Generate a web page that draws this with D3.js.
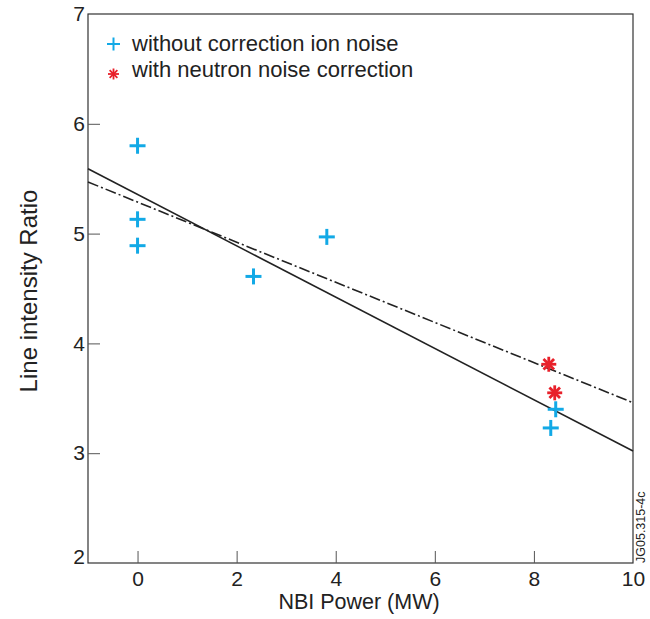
<!DOCTYPE html>
<html>
<head>
<meta charset="utf-8">
<script src="https://cdn.jsdelivr.net/npm/d3@7"></script>
<style>
  body { margin: 0; background: #fff; }
  svg text { font-family: 'Liberation Sans', Arial, sans-serif; fill: #222; }
</style>
</head>
<body>
<div id="chart"></div>
<script>
// Data
const xTicks = [0, 2, 4, 6, 8, 10];
const yTicks = [2, 3, 4, 5, 6, 7];

const uncorrectedX = [0, 0, 0, 2.34, 3.82, 8.44, 8.34];
const uncorrectedY = [5.80, 5.13, 4.89, 4.61, 4.97, 3.40, 3.23];

const correctedX = [8.30, 8.42];
const correctedY = [3.81, 3.55];

// fit lines, endpoints at x = -1 and x = 10
const solidFitX = [-1, 10];
const solidFitY = [5.59, 3.02];
const dashFitX = [-1, 10];
const dashFitY = [5.47, 3.46];

const BLUE = '#12a9e6';
const RED = '#e8202a';
const FONT = "'Liberation Sans', Arial, sans-serif";

const W = 650, H = 619;
const m = { top: 14, right: 17, bottom: 56, left: 88 };
const w = W - m.left - m.right;
const h = H - m.top - m.bottom;

const svg = d3.select('#chart').append('svg')
  .attr('width', W).attr('height', H);
const g = svg.append('g').attr('transform', `translate(${m.left},${m.top})`);

const x = d3.scaleLinear().domain([-1, 10]).range([0, w]);
const y = d3.scaleLinear().domain([2, 7]).range([h, 0]);

// Frame
g.append('rect')
  .attr('width', w).attr('height', h)
  .attr('fill', 'none').attr('stroke', '#333').attr('stroke-width', 1.2);

// Axes, ticks point inward
const xAxis = g.append('g').attr('transform', `translate(0,${h})`)
  .call(d3.axisBottom(x).tickValues(xTicks).tickFormat(d3.format('d'))
    .tickSizeInner(-12).tickSizeOuter(0).tickPadding(5));
const yAxis = g.append('g')
  .call(d3.axisLeft(y).tickValues(yTicks).tickFormat(d3.format('d'))
    .tickSizeInner(-12).tickSizeOuter(0).tickPadding(3));

[xAxis, yAxis].forEach(ax => {
  ax.select('.domain').remove();
  ax.selectAll('.tick line').attr('stroke', '#555').attr('stroke-width', 1);
  ax.selectAll('.tick text')
    .style('font-size', '21px')
    .style('font-family', FONT)
    .attr('fill', '#222');
});
// no inner tick lines at the frame edges
xAxis.selectAll('.tick').filter(d => d === 10).select('line').remove();
yAxis.selectAll('.tick').filter(d => d === 2 || d === 7).select('line').remove();
xAxis.selectAll('.tick text').attr('dy', '0.85em');
// bottom label sits on the axis line
yAxis.selectAll('.tick').filter(d => d === 2).select('text').attr('dy', '0');

// Axis titles
svg.append('text')
  .attr('x', 359).attr('y', 609)
  .attr('text-anchor', 'middle')
  .style('font-size', '21.5px')
  .text('NBI Power (MW)');

svg.append('text')
  .attr('transform', `translate(37,291) rotate(-90)`)
  .attr('text-anchor', 'middle')
  .style('font-size', '24px')
  .text('Line intensity Ratio');

// Figure reference code
svg.append('text')
  .attr('transform', `translate(645,563) rotate(-90)`)
  .attr('text-anchor', 'start')
  .style('font-size', '12.5px')
  .text('JG05.315-4c');

// Fit lines
const line = d3.line().x(d => x(d[0])).y(d => y(d[1]));

g.append('path')
  .datum(d3.zip(solidFitX, solidFitY))
  .attr('d', line)
  .attr('fill', 'none').attr('stroke', '#222').attr('stroke-width', 1.6);

g.append('path')
  .datum(d3.zip(dashFitX, dashFitY))
  .attr('d', line)
  .attr('fill', 'none').attr('stroke', '#222').attr('stroke-width', 1.6)
  .attr('stroke-dasharray', '11,3,2,3');

// Markers
function plus(sel, size, color, sw) {
  sel.append('line').attr('x1', -size).attr('x2', size).attr('y1', 0).attr('y2', 0)
    .attr('stroke', color).attr('stroke-width', sw);
  sel.append('line').attr('y1', -size).attr('y2', size).attr('x1', 0).attr('x2', 0)
    .attr('stroke', color).attr('stroke-width', sw);
}
function star(sel, size, color, sw) {
  [0, 45, 90, 135].forEach(a => {
    const r = a * Math.PI / 180;
    sel.append('line')
      .attr('x1', -size * Math.cos(r)).attr('y1', -size * Math.sin(r))
      .attr('x2', size * Math.cos(r)).attr('y2', size * Math.sin(r))
      .attr('stroke', color).attr('stroke-width', sw);
  });
}

d3.zip(uncorrectedX, uncorrectedY).forEach(([px, py]) => {
  const mk = g.append('g').attr('transform', `translate(${x(px)},${y(py)})`);
  plus(mk, 8, BLUE, 3);
});
d3.zip(correctedX, correctedY).forEach(([px, py]) => {
  const mk = g.append('g').attr('transform', `translate(${x(px)},${y(py)})`);
  star(mk, 7.5, RED, 2.8);
});

// Legend
const legend = svg.append('g').attr('transform', 'translate(113.5,0)');
plus(legend.append('g').attr('transform', 'translate(0,44)'), 6.5, BLUE, 2);
star(legend.append('g').attr('transform', 'translate(0,74)'), 5.5, RED, 1.8);
legend.append('text').attr('x', 18.5).attr('y', 51).style('font-size', '22px')
  .text('without correction ion noise');
legend.append('text').attr('x', 18.5).attr('y', 77).style('font-size', '22px')
  .text('with neutron noise correction');
</script>
</body>
</html>
